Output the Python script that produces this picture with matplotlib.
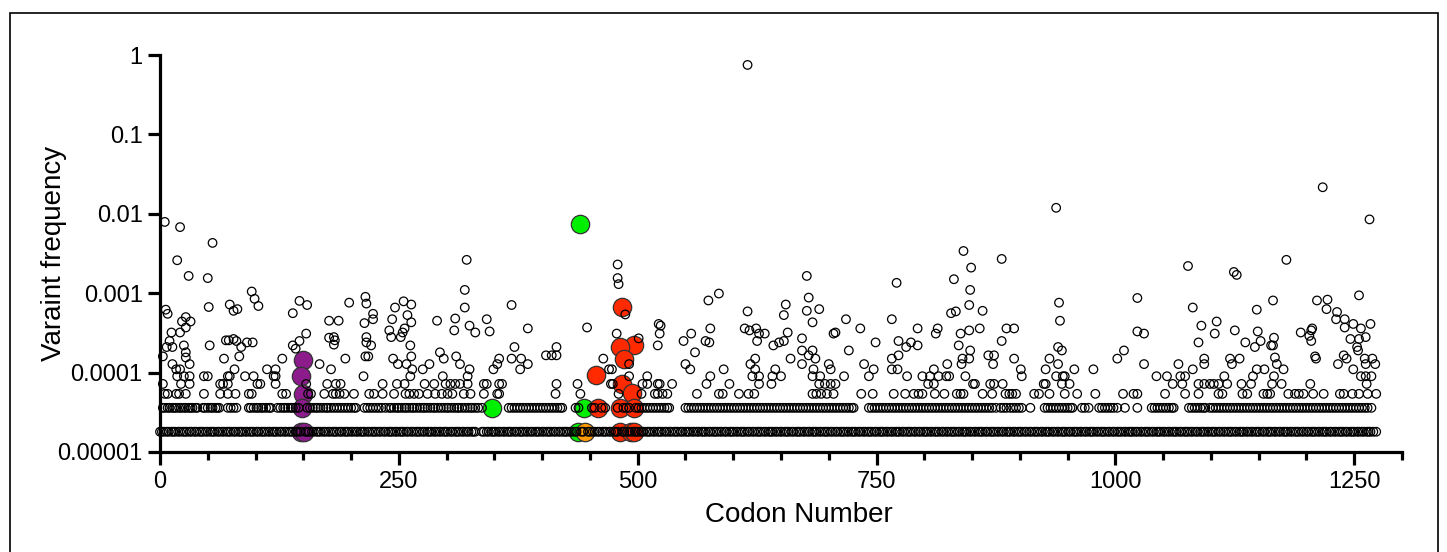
import matplotlib
matplotlib.use("Agg")
import matplotlib.pyplot as plt
from matplotlib.patches import Rectangle
from matplotlib.ticker import FixedLocator, MultipleLocator, NullLocator

plt.rcParams['font.family'] = ['Liberation Sans', 'DejaVu Sans']

# codons seen once (lowest frequency row, ~1.8e-5)
single_codons = [
    0, 2, 4, 7, 9, 12, 14, 16, 19, 21, 24, 26, 28, 31, 33, 36, 38, 41, 43, 45, 48, 50, 53, 55, 57, 60,
    62, 65, 67, 70, 72, 74, 77, 79, 82, 84, 86, 89, 91, 94, 96, 98,
    101, 103, 106, 108, 110, 113, 115, 118, 120, 122, 125, 127, 130, 132, 135, 137, 139, 142, 144, 147,
    152, 154, 156, 159, 161, 164, 166, 168, 171, 173, 176, 178, 181, 183, 185, 188, 190, 193, 195, 197,
    200, 202, 205, 207, 210, 212, 214, 217, 219, 222, 224, 226, 229, 231, 234, 236, 239, 241, 243, 246,
    248, 251, 253, 255, 258, 260, 263, 265, 268, 270, 272, 275, 277, 280, 282, 284, 287, 289, 292, 294,
    297, 299, 301, 304, 306, 309, 311, 313, 316, 318, 321, 323, 326, 328, 330, 337, 339, 342, 344, 347,
    349, 351, 354, 356, 359, 361, 364, 366, 368, 371, 373, 376, 378, 380, 383, 385, 388, 390, 393, 395,
    397, 400, 402, 405, 407, 409, 412, 414, 417, 419, 422, 424, 426, 429, 431, 434, 436, 441, 443, 448,
    450, 453, 455, 458, 460, 463, 465, 467, 470, 472, 475, 477, 479, 484, 486, 489, 491, 494, 497, 499,
    501, 504, 506, 509, 511, 513, 516, 518, 521, 523, 525, 528, 530, 533, 535, 538, 540, 542, 545, 547,
    550, 552, 554, 557, 559, 562, 564, 567, 569, 571, 574, 576, 579, 581, 583, 586, 588, 591, 593, 596,
    598, 600, 603, 605, 608, 610, 612, 615, 617, 620, 622, 625, 627, 629, 632, 634, 637, 639, 641, 644,
    646, 649, 651, 654, 656, 658, 661, 663, 666, 668, 670, 673, 675, 678, 680, 683, 685, 687, 690, 692,
    695, 697, 699, 702, 704, 707, 709, 712, 714, 716, 719, 721, 724, 726, 728, 731, 733, 736, 738, 741,
    743, 745, 748, 750, 753, 755, 757, 760, 762, 765, 767, 770, 772, 774, 777, 779, 782, 784, 786, 789,
    791, 794, 796, 799, 801, 803, 806, 808, 811, 813, 815, 818, 820, 823, 825, 828, 830, 832, 835, 837,
    840, 842, 844, 847, 849, 852, 854, 857, 859, 861, 864, 866, 869, 871, 873, 876, 878, 881, 883, 886,
    888, 890, 893, 895, 898, 900, 902, 905, 907, 910, 912, 915, 917, 919, 922, 924, 927, 929, 931, 934,
    936, 939, 941, 944, 946, 948, 951, 953, 956, 958, 960, 963, 965, 968, 970, 973, 975, 977, 980, 982,
    985, 987, 989, 992, 994, 997, 999, 1002, 1004, 1006, 1009, 1011, 1014, 1016, 1018, 1021, 1023, 1026,
    1028, 1031, 1033, 1035, 1038, 1040, 1043, 1045, 1047, 1050, 1052, 1055, 1057, 1060, 1062, 1064, 1067,
    1069, 1072, 1074, 1076, 1079, 1081, 1084, 1086, 1089, 1091, 1093, 1096, 1098, 1101, 1103, 1105, 1108,
    1110, 1113, 1115, 1118, 1120, 1122, 1125, 1127, 1130, 1132, 1134, 1137, 1139, 1142, 1144, 1147, 1149,
    1151, 1154, 1156, 1159, 1161, 1163, 1166, 1168, 1171, 1173, 1176, 1178, 1180, 1183, 1185, 1188, 1190,
    1192, 1195, 1197, 1200, 1202, 1205, 1207, 1209, 1212, 1214, 1217, 1219, 1221, 1224, 1226, 1229, 1231,
    1234, 1236, 1238, 1241, 1243, 1246, 1248, 1250, 1253, 1255, 1258, 1260, 1263, 1265, 1267, 1270, 1273,
]

# codons seen twice (~3.6e-5)
double_codons = [
    3, 5, 8, 10, 13, 15, 17, 20, 22, 25, 27, 30, 32, 34, 37, 39, 45, 47, 50, 53, 55, 58, 60, 62,
    71, 74, 77, 80, 93, 95, 98, 101, 103, 106, 108, 111, 114, 116, 123, 126, 129, 131, 134, 137, 139,
    142, 145, 154, 157, 160, 163, 165, 168, 171, 174, 176, 179, 182, 185, 188, 191, 194, 197, 200, 203,
    205, 214, 217, 220, 223, 226, 229, 232, 236, 240, 242, 245, 248, 250, 253, 256, 258, 261, 264, 266,
    269, 272, 275, 277, 280, 283, 286, 288, 291, 294, 297, 300, 302, 305, 308, 311, 313, 316, 319, 322,
    325, 327, 330, 333, 337, 365, 368, 371, 374, 377, 380, 383, 386, 389, 392, 395, 398, 401, 404, 407,
    410, 413, 416, 419, 421, 435, 438, 452, 455, 462, 466, 479, 485, 488, 491, 498, 501, 504, 507, 510,
    513, 516, 519, 522, 525, 528, 531, 533, 550, 553, 556, 559, 562, 565, 568, 571, 574, 577, 580, 583,
    586, 589, 592, 595, 598, 601, 604, 607, 610, 613, 616, 619, 622, 625, 628, 631, 634, 637, 640, 643,
    646, 649, 652, 655, 658, 661, 664, 667, 670, 673, 676, 679, 682, 685, 688, 691, 694, 697, 700, 703,
    706, 709, 712, 715, 718, 721, 724, 726, 742, 745, 748, 751, 754, 757, 760, 763, 766, 769, 772, 775,
    778, 781, 784, 787, 790, 793, 796, 799, 802, 805, 808, 811, 814, 817, 820, 823, 826, 829, 832, 835,
    838, 841, 844, 847, 850, 853, 856, 859, 862, 865, 868, 871, 875, 880, 883, 886, 890, 893, 896, 899,
    902, 911, 926, 929, 932, 935, 938, 941, 944, 947, 950, 953, 955, 965, 968, 972, 983, 986, 989, 992,
    995, 998, 1002, 1010, 1023, 1038, 1041, 1044, 1047, 1050, 1053, 1056, 1059, 1061, 1077, 1080, 1083,
    1086, 1089, 1092, 1094, 1099, 1102, 1105, 1108, 1111, 1114, 1117, 1120, 1123, 1126, 1129, 1132, 1135,
    1138, 1141, 1144, 1147, 1150, 1153, 1156, 1159, 1162, 1165, 1168, 1171, 1174, 1177, 1180, 1183, 1186,
    1189, 1192, 1195, 1198, 1201, 1204, 1207, 1210, 1213, 1216, 1219, 1222, 1225, 1228, 1231, 1234, 1237,
    1240, 1243, 1246, 1249, 1252, 1255, 1258, 1261, 1264, 1268,
]

# codons seen three times (~5.4e-5)
triple_codons = [
    5, 8, 17, 20, 27, 46, 63, 71, 79, 93, 96, 128, 132, 155, 158, 172, 181, 184, 188, 193, 203, 219,
    224, 233, 245, 257, 261, 266, 271, 280, 288, 295, 301, 306, 318, 325, 339, 353, 355, 414, 440, 480,
    504, 518, 521, 526, 531, 562, 585, 589, 606, 616, 622, 683, 687, 692, 698, 705, 734, 746, 768, 780,
    789, 794, 798, 811, 821, 834, 838, 841, 861, 871, 885, 889, 892, 896, 915, 920, 931, 947, 960, 979,
    1008, 1019, 1023, 1052, 1073, 1087, 1108, 1112, 1133, 1138, 1155, 1159, 1162, 1181, 1188, 1192,
    1197, 1207, 1218, 1235, 1239, 1248, 1255, 1264, 1273,
]

# codons seen four times (~7.2e-5)
quad_codons = [
    3, 22, 31, 63, 66, 71, 102, 105, 121, 153, 175, 184, 189, 233, 248, 256, 277, 287, 299, 304, 309,
    314, 322, 339, 342, 355, 358, 415, 437, 472, 474, 505, 510, 521, 523, 536, 572, 596, 627, 640, 690,
    696, 702, 707, 804, 810, 851, 853, 869, 873, 882, 925, 927, 944, 952, 1060, 1070, 1087, 1093, 1099,
    1103, 1108, 1117, 1132, 1142, 1164, 1174, 1204, 1263,
]

# codons seen five times (~9e-5)
five_codons = [
    18, 25, 31, 46, 50, 71, 73, 89, 98, 119, 121, 213, 262, 296, 322, 491, 510, 576, 620, 627, 641,
    650, 683, 691, 716, 742, 782, 798, 806, 815, 823, 826, 843, 902, 938, 945, 947, 1043, 1054, 1068,
    1073, 1114, 1144, 1166, 1257, 1262, 1268,
]

# remaining variants above ~1e-4
upper_codons = [
    5, 21, 55, 615, 938, 841, 1217, 1266,
    18, 30, 50, 96, 99, 103, 6, 8, 51, 73, 77, 81, 27, 23, 32, 27, 12, 21, 10, 7, 13, 25, 27, 27, 31,
    13, 17, 21, 3, 52, 67, 69, 72, 77, 80, 85, 83, 91, 97, 78, 139, 146, 154, 139, 146, 153, 142, 128,
    112, 121, 167, 179, 177, 187, 198, 177, 182, 183, 182, 194, 215, 216, 223, 223, 214, 216, 216, 221,
    215, 218, 246, 255, 263, 259, 243, 263, 240, 256, 254, 242, 252, 262, 263, 244, 249, 258, 264, 290,
    309, 308, 321, 319, 319, 324, 330, 293, 297, 310, 314, 324, 282, 275,
    479, 479, 480, 487, 368, 342, 345, 385, 371, 368, 378, 385, 377, 355, 353, 349, 404, 410, 415, 415,
    447, 478, 501, 464, 470, 473, 491, 522, 524, 523, 521, 548, 556, 560, 550, 555, 574, 585, 576, 571,
    575, 590, 615, 612, 617, 624, 627, 633, 625, 642, 648, 653, 655, 653, 623, 618, 623, 644,
    881, 677, 849, 831, 771, 848, 679, 677, 690, 683, 657, 672, 672, 683, 679, 686, 672, 660, 684, 707,
    705, 718, 721, 733, 749, 737, 747, 700, 702, 766, 773, 786, 781, 793, 773, 766, 766, 772, 793, 810,
    814, 812, 824, 828, 833, 847, 838, 847, 836, 848, 840, 847, 839, 861, 858, 867, 873, 872, 886, 894,
    881, 894, 901, 941, 942, 940, 944, 931, 940, 927, 957, 977,
    1076, 1124, 1127, 1179, 1023, 1081, 1165, 1211, 1222, 1255, 1221, 1232, 1231, 1240, 1240, 1249,
    1257, 1267, 1262, 1255, 1246, 1253, 1254, 1239, 1242, 1233, 1249, 1261, 1262, 1269, 1272, 1209,
    1210, 1206, 1205, 1203, 1194, 1205, 1148, 1149, 1152, 1166, 1163, 1165, 1146, 1136, 1125, 1106,
    1104, 1090, 1087, 1023, 1030, 1009, 1002, 1030, 1066, 1081, 1093, 1093, 1120, 1130, 1122, 1148,
    1156, 1167, 1169, 1176,
]
upper_freqs = [
    7.9e-3, 6.8e-3, 4.3e-3, 0.75, 0.0119, 3.4e-3, 0.0216, 8.5e-3,
    2.6e-3, 1.65e-3, 1.55e-3, 1.05e-3, 8.5e-4, 6.9e-4, 6.2e-4, 5.5e-4, 6.7e-4, 7.2e-4, 6.0e-4, 6.3e-4,
    5.0e-4, 4.4e-4, 4.4e-4, 3.7e-4, 3.2e-4, 3.2e-4, 2.5e-4, 2.1e-4, 2.1e-4, 2.2e-4, 1.8e-4, 1.55e-4,
    1.28e-4, 1.28e-4, 1.1e-4, 1.1e-4, 1.6e-4, 2.2e-4, 1.5e-4, 2.55e-4, 2.55e-4, 2.65e-4, 2.5e-4,
    2.1e-4, 1.6e-4, 2.4e-4, 2.4e-4, 1.1e-4, 5.6e-4, 8.0e-4, 7.1e-4, 2.2e-4, 2.5e-4, 3.1e-4, 2.0e-4,
    1.5e-4, 1.1e-4, 1.1e-4, 1.28e-4, 1.1e-4, 4.5e-4, 4.5e-4, 7.6e-4, 2.75e-4, 2.8e-4, 2.55e-4,
    2.25e-4, 1.5e-4, 9.0e-4, 7.4e-4, 5.5e-4, 4.7e-4, 4.2e-4, 2.8e-4, 2.4e-4, 2.2e-4, 1.6e-4, 1.6e-4,
    6.6e-4, 7.9e-4, 7.2e-4, 5.3e-4, 4.7e-4, 4.3e-4, 3.4e-4, 3.6e-4, 3.2e-4, 2.8e-4, 2.8e-4, 2.2e-4,
    1.6e-4, 1.5e-4, 1.28e-4, 1.28e-4, 1.1e-4, 4.5e-4, 4.8e-4, 3.4e-4, 2.63e-3, 1.1e-3, 6.6e-4,
    3.9e-4, 3.2e-4, 1.8e-4, 1.5e-4, 1.6e-4, 1.28e-4, 1.1e-4, 1.28e-4, 1.1e-4,
    2.3e-3, 1.55e-3, 1.3e-3, 5.4e-4, 7.1e-4, 4.7e-4, 3.3e-4, 3.6e-4, 2.1e-4, 1.5e-4, 1.5e-4, 1.28e-4,
    1.1e-4, 1.5e-4, 1.28e-4, 1.1e-4, 1.65e-4, 1.65e-4, 1.65e-4, 2.1e-4, 3.7e-4, 3.1e-4, 2.7e-4,
    1.5e-4, 1.1e-4, 1.1e-4, 1.28e-4, 4.1e-4, 3.9e-4, 3.1e-4, 2.2e-4, 2.5e-4, 3.1e-4, 1.8e-4, 1.28e-4,
    1.1e-4, 8.1e-4, 9.9e-4, 3.6e-4, 2.5e-4, 2.4e-4, 1.1e-4, 5.9e-4, 3.6e-4, 3.4e-4, 3.6e-4, 3.1e-4,
    3.1e-4, 2.5e-4, 2.2e-4, 2.4e-4, 2.5e-4, 7.2e-4, 5.3e-4, 1.5e-4, 1.28e-4, 1.1e-4, 1.1e-4,
    2.7e-3, 1.65e-3, 2.1e-3, 1.5e-3, 1.35e-3, 1.1e-3, 8.8e-4, 6.0e-4, 6.3e-4, 4.3e-4, 3.2e-4, 2.7e-4,
    1.9e-4, 1.9e-4, 1.65e-4, 1.5e-4, 1.28e-4, 1.5e-4, 1.1e-4, 3.2e-4, 3.1e-4, 4.7e-4, 1.9e-4, 3.6e-4,
    2.4e-4, 1.28e-4, 1.1e-4, 1.28e-4, 1.1e-4, 4.7e-4, 2.5e-4, 2.4e-4, 2.1e-4, 2.2e-4, 1.65e-4, 1.5e-4,
    1.1e-4, 1.1e-4, 3.6e-4, 1.1e-4, 3.6e-4, 3.1e-4, 1.28e-4, 5.6e-4, 5.9e-4, 7.1e-4, 3.1e-4, 3.4e-4,
    2.2e-4, 1.9e-4, 1.5e-4, 1.5e-4, 1.28e-4, 6.0e-4, 3.6e-4, 1.65e-4, 1.65e-4, 1.28e-4, 3.6e-4,
    3.6e-4, 2.5e-4, 1.5e-4, 1.1e-4, 7.6e-4, 4.5e-4, 2.1e-4, 1.9e-4, 1.5e-4, 1.28e-4, 1.1e-4, 1.1e-4,
    1.1e-4,
    2.2e-3, 1.85e-3, 1.7e-3, 2.63e-3, 8.7e-4, 6.6e-4, 8.1e-4, 8.1e-4, 8.3e-4, 9.4e-4, 6.3e-4, 5.8e-4,
    4.7e-4, 4.7e-4, 3.7e-4, 4.1e-4, 3.6e-4, 4.1e-4, 2.8e-4, 2.65e-4, 2.65e-4, 2.1e-4, 1.9e-4, 1.65e-4,
    1.5e-4, 1.28e-4, 1.1e-4, 1.5e-4, 1.28e-4, 1.5e-4, 1.28e-4, 1.6e-4, 1.5e-4, 3.6e-4, 3.4e-4,
    2.9e-4, 3.2e-4, 2.5e-4, 6.2e-4, 3.3e-4, 2.5e-4, 2.75e-4, 2.2e-4, 2.2e-4, 2.1e-4, 2.4e-4, 3.4e-4,
    4.4e-4, 3.1e-4, 3.9e-4, 2.4e-4, 3.3e-4, 3.1e-4, 1.9e-4, 1.5e-4, 1.28e-4, 1.28e-4, 1.1e-4, 1.5e-4,
    1.28e-4, 1.5e-4, 1.5e-4, 1.28e-4, 1.1e-4, 1.1e-4, 1.55e-4, 1.28e-4, 1.1e-4,
]

# highlighted mutations
purple_codons = [150, 148, 150, 149, 148, 151]
purple_freqs = [1.44e-4, 9.0e-5, 5.4e-5, 3.6e-5, 1.8e-5, 1.8e-5]
green_codons = [347, 440, 444, 438]
green_freqs = [3.6e-5, 7.4e-3, 3.6e-5, 1.8e-5]
orange_codons = [445]
orange_freqs = [1.8e-5]
red_codons = [484, 496, 482, 486, 456, 484, 494, 458, 482, 496, 482, 493, 496]
red_freqs = [6.7e-4, 2.2e-4, 2.1e-4, 1.5e-4, 9.2e-5, 7.2e-5, 5.6e-5, 3.6e-5, 3.6e-5, 3.6e-5,
             1.8e-5, 1.8e-5, 1.8e-5]

yticks = [1e-5, 1e-4, 1e-3, 1e-2, 1e-1, 1]
ytick_labels = ['0.00001', '0.0001', '0.001', '0.01', '0.1', '1']


W, H = 1447, 552
fig = plt.figure(figsize=(W / 100, H / 100), dpi=100)
ax = fig.add_axes([160 / W, 100 / H, 1242 / W, 397 / H])

# highlighted points go underneath, open circles are drawn over them
hl = dict(s=175, edgecolors='#333333', linewidths=0.9, zorder=2, clip_on=False)
ax.scatter(purple_codons, purple_freqs, c='#8C1C8C', **hl)
ax.scatter(green_codons, green_freqs, c='#00EE00', **hl)
ax.scatter(orange_codons, orange_freqs, c='#FF9A00', **hl)
ax.scatter(red_codons, red_freqs, c='#FF2A00', **hl)

op = dict(s=38, facecolors='none', edgecolors='black', linewidths=0.9, zorder=3, clip_on=False)
ax.scatter(single_codons, [1.8e-5] * len(single_codons), **op)
ax.scatter(double_codons, [3.6e-5] * len(double_codons), **op)
ax.scatter(triple_codons, [5.4e-5] * len(triple_codons), **op)
ax.scatter(quad_codons, [7.2e-5] * len(quad_codons), **op)
ax.scatter(five_codons, [9.0e-5] * len(five_codons), **op)
ax.scatter(upper_codons, upper_freqs, **op)

ax.set_yscale('log')
ax.set_ylim(1e-5, 1)
ax.set_xlim(0, 1300)

for s in ['top', 'right']:
    ax.spines[s].set_visible(False)
for s in ['left', 'bottom']:
    ax.spines[s].set_linewidth(2.3)

ax.yaxis.set_major_locator(FixedLocator(yticks))
ax.set_yticklabels(ytick_labels)
ax.yaxis.set_minor_locator(NullLocator())
ax.xaxis.set_major_locator(MultipleLocator(250))
ax.xaxis.set_minor_locator(MultipleLocator(50))

ax.tick_params(axis='both', which='major', direction='out', width=2.3, length=8.5,
               labelsize=17, pad=4)
ax.tick_params(axis='x', which='minor', direction='out', width=2.3, length=5.5)
ax.tick_params(axis='x', which='major', length=9, pad=5)

ax.set_xlabel('Codon Number', fontsize=20)
ax.xaxis.set_label_coords(0.514, -0.125)
ax.set_ylabel('Varaint frequency', fontsize=20)
ax.yaxis.set_label_coords(-0.075, 0.5)

# thin frame around the whole panel
fig.patches.append(Rectangle((10 / W, -0.05), 1428 / W, 1 - 13 / H + 0.05,
                             transform=fig.transFigure, fill=False, lw=1.2,
                             ec='black'))

fig.savefig('out.png', dpi=100)
